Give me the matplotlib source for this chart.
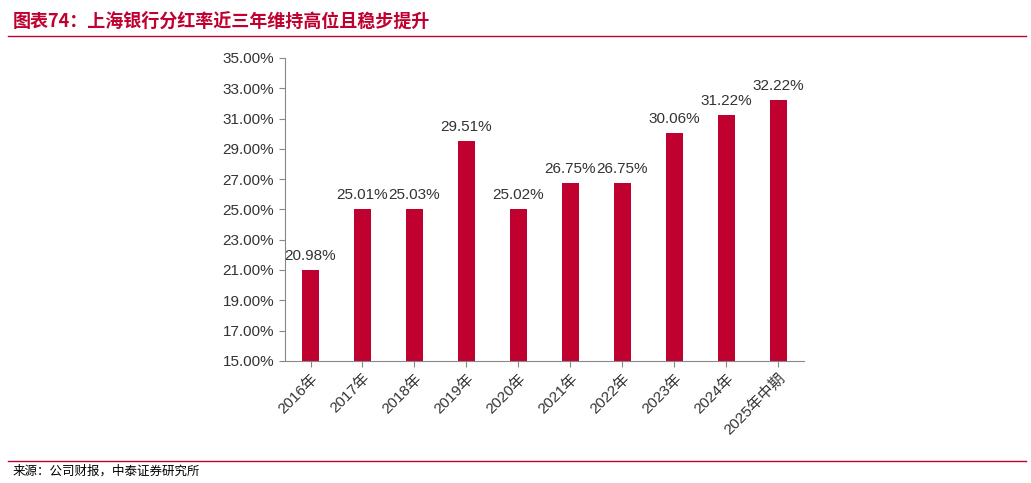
import matplotlib
matplotlib.use("Agg")
import matplotlib.pyplot as plt
import numpy as np

plt.rcParams['font.family'] = ['Liberation Sans', 'Noto Sans CJK SC', 'DejaVu Sans']

years = ["2016年", "2017年", "2018年", "2019年", "2020年", "2021年", "2022年", "2023年", "2024年", "2025年中期"]
payout = [20.98, 25.01, 25.03, 29.51, 25.02, 26.75, 26.75, 30.06, 31.22, 32.22]

fig = plt.figure(figsize=(10.31, 4.83), dpi=100)
red = "#C0002F"

# header and footer
fig.text(0.012, 0.955, "图表74：上海银行分红率近三年维持高位且稳步提升", color=red,
         fontsize=13, fontweight="bold", style="italic", va="center",
         family=['Noto Sans CJK SC', 'DejaVu Sans'])
fig.add_artist(plt.Line2D([0.008, 0.995], [0.925, 0.925], color=red, lw=1))
fig.add_artist(plt.Line2D([0.008, 0.995], [0.045, 0.045], color=red, lw=1))
fig.text(0.012, 0.025, "来源：公司财报，中泰证券研究所", fontsize=9, va="center",
         family=['Noto Sans CJK SC', 'DejaVu Sans'])

ax = fig.add_axes([0.276, 0.253, 0.504, 0.627])
x = np.arange(len(years))
ax.bar(x, payout, width=0.33, color=red)
for xi, v in zip(x, payout):
    ax.text(xi, v + 0.45, f"{v:.2f}%", ha="center", va="bottom", fontsize=11, color="#333333")

ax.set_ylim(15, 35)
ax.set_yticks(np.arange(15, 35.1, 2))
ax.set_yticklabels([f"{t:.2f}%" for t in np.arange(15, 35.1, 2)], fontsize=11, color="#333333")
ax.set_xlim(-0.5, len(years) - 0.5)
ax.set_xticks(x)
ax.set_xticklabels(years, rotation=45, ha="right", rotation_mode="anchor", fontsize=11, color="#333333")
for s in ["top", "right"]:
    ax.spines[s].set_visible(False)
for s in ["left", "bottom"]:
    ax.spines[s].set_color("#888888")
ax.tick_params(axis="both", color="#888888", length=4)

fig.savefig("out.png", dpi=100)
